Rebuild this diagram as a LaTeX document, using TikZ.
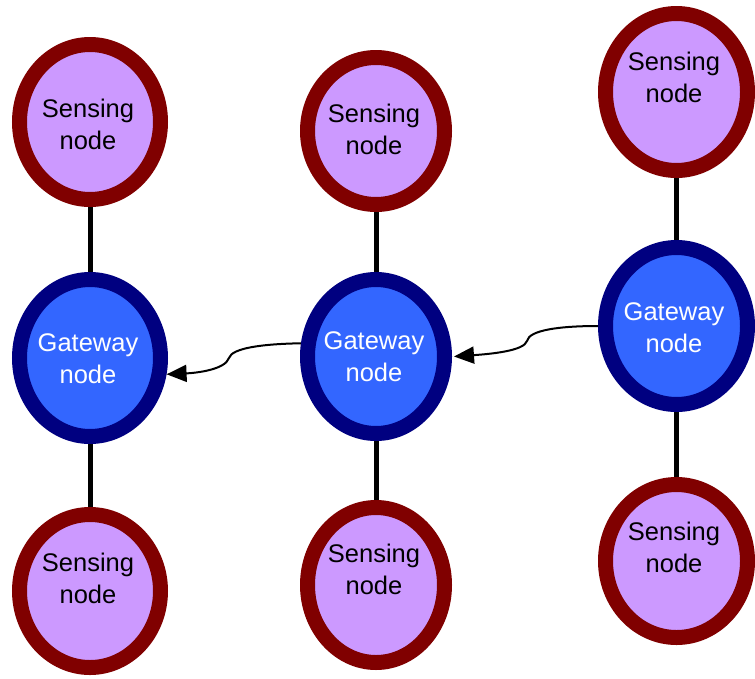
\documentclass[tikz,border=0pt]{standalone}
\usepackage{fontspec}
\setmainfont{Liberation Sans}
\usetikzlibrary{shapes.geometric,arrows.meta}
\definecolor{sensfill}{HTML}{CC99FF}
\definecolor{sensdraw}{HTML}{800000}
\definecolor{gatefill}{HTML}{3366FF}
\definecolor{gatedraw}{HTML}{000080}
\tikzset{
  ell/.style={ellipse, line width=15pt, inner sep=0pt, outer sep=7.5pt},
  sensor/.style={ell, draw=sensdraw, fill=sensfill},
  gateway/.style={ell, draw=gatedraw, fill=gatefill},
  lbl/.style={align=center, inner sep=0pt, font=\fontsize{25.5}{32}\selectfont},
  link/.style={line width=5pt, black},
  conn/.style={line width=2pt, black, -{Triangle[length=20pt,width=17pt]}}
}
\begin{document}
\begin{tikzpicture}[x=1pt,y=-1pt]
\useasboundingbox (0,0) rectangle (755,678);
% ellipses
\node[sensor, minimum width=141, minimum height=155] (s1) at (90,122) {};
\node[sensor, minimum width=137, minimum height=147] (s2) at (376,131) {};
\node[sensor, minimum width=142, minimum height=157] (s3) at (676.5,92) {};
\node[gateway, minimum width=141, minimum height=157] (g1) at (90,358) {};
\node[gateway, minimum width=137, minimum height=154] (g2) at (376,356.5) {};
\node[gateway, minimum width=142, minimum height=157] (g3) at (676.5,326) {};
\node[sensor, minimum width=141, minimum height=153] (b1) at (90,591) {};
\node[sensor, minimum width=137, minimum height=155] (b2) at (376,585) {};
\node[sensor, minimum width=142, minimum height=153] (b3) at (676.5,561) {};
% vertical links
\draw[link] (s1.south) -- (g1.north);
\draw[link] (g1.south) -- (b1.north);
\draw[link] (s2.south) -- (g2.north);
\draw[link] (g2.south) -- (b2.north);
\draw[link] (s3.south) -- (g3.north);
\draw[link] (g3.south) -- (b3.north);
% curved arrows
\coordinate (k2) at (527,341);
\coordinate (k1) at (229,358);
\draw[conn] (g3.west) .. controls (560,326) and (529,330) .. (k2)
  .. controls (524,351) and (490,354) .. ([xshift=2pt]g2.east);
\draw[conn] (g2.170) .. controls (262,344) and (232,348) .. (k1)
  .. controls (225,370) and (195,373) .. (g1.-12);
% labels
\node[lbl] (ts1) at (88,124) {Sensing\\node};
\node[lbl] (ts2) at (374,129) {Sensing\\node};
\node[lbl] (ts3) at (674,77) {Sensing\\node};
\node[lbl, text=white] (tg1) at (88,359) {Gateway\\node};
\node[lbl, text=white] (tg2) at (374,357) {Gateway\\node};
\node[lbl, text=white] (tg3) at (674,328) {Gateway\\node};
\node[lbl] (tb1) at (88,578) {Sensing\\node};
\node[lbl] (tb2) at (374,569) {Sensing\\node};
\node[lbl] (tb3) at (674,547) {Sensing\\node};
\end{tikzpicture}
\end{document}
